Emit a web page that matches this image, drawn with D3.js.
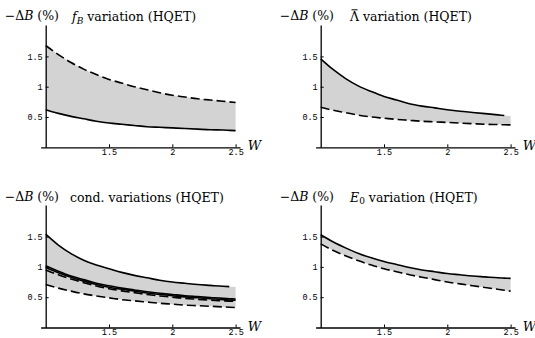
<!DOCTYPE html>
<html><head><meta charset="utf-8">
<script src="https://cdn.jsdelivr.net/npm/d3@7"></script>
<style>body{margin:0;background:#fff}svg{display:block}</style>
</head><body>
<svg id="c" width="535" height="338"></svg>
<script>
const W = [1, 1.1, 1.2, 1.3, 1.4, 1.5, 1.6, 1.7, 1.8, 1.9, 2.0, 2.1, 2.2, 2.3, 2.4, 2.45, 2.5];
const xTicks = [1.5, 2, 2.5];
const yTicks = [0.5, 1, 1.5];

// f_B variation
const fbDashed = [1.68,1.53,1.40,1.29,1.20,1.12,1.06,1.00,0.95,0.90,0.86,0.83,0.80,0.78,0.76,0.75,0.74];
const fbSolid  = [0.62,0.56,0.51,0.47,0.43,0.40,0.38,0.36,0.34,0.33,0.32,0.31,0.30,0.29,0.285,0.28,0.275];
// Lambda-bar variation
const lamSolid  = [1.46,1.28,1.13,1.01,0.92,0.84,0.78,0.72,0.68,0.65,0.62,0.595,0.575,0.555,0.535,0.525,0.515];
const lamDashed = [0.66,0.61,0.57,0.53,0.50,0.48,0.46,0.445,0.43,0.42,0.41,0.40,0.39,0.38,0.375,0.372,0.37];
// cond. variations
const condS1 = [1.54,1.36,1.22,1.11,1.03,0.97,0.91,0.86,0.82,0.78,0.75,0.73,0.71,0.695,0.68,0.675,0.67];
const condS2 = [1.02,0.93,0.85,0.79,0.73,0.69,0.65,0.62,0.59,0.565,0.545,0.525,0.51,0.495,0.48,0.475,0.47];
const condS3 = [0.99,0.905,0.83,0.765,0.71,0.665,0.63,0.60,0.57,0.545,0.525,0.505,0.49,0.475,0.46,0.455,0.45];
const condD1 = [0.95,0.87,0.80,0.74,0.685,0.64,0.605,0.575,0.545,0.52,0.50,0.48,0.465,0.45,0.44,0.435,0.43];
const condD2 = [0.71,0.65,0.60,0.555,0.52,0.49,0.46,0.44,0.42,0.40,0.385,0.37,0.36,0.35,0.34,0.335,0.33];
// E0 variation
const e0Solid  = [1.53,1.41,1.31,1.22,1.15,1.09,1.04,0.99,0.95,0.92,0.89,0.87,0.85,0.835,0.82,0.815,0.81];
const e0Dashed = [1.38,1.27,1.18,1.10,1.03,0.97,0.92,0.87,0.83,0.79,0.75,0.72,0.69,0.66,0.63,0.615,0.60];

const svg = d3.select("#c");
const PX = 126.6, PY = 60.6;
const FILL = "#d3d3d3";
const SERIF = "'DejaVu Serif', serif";

function panel(ox, oy, tx, title, bands, lines) {
  const g = svg.append("g");
  const x = d3.scaleLinear().domain([0.96, 2.535]).range([ox - 0.04*PX, ox + 1.535*PX]);
  const y = d3.scaleLinear().domain([0, 2.02]).range([oy, oy - 2.02*PY]);
  const pts = a => a.map((v,i)=>({w:W[i], v}));

  bands.forEach(([lo, hi]) => {
    const data = W.map((w,i)=>({w, lo: lo[i], hi: hi[i]}));
    g.append("path").datum(data)
      .attr("d", d3.area().curve(d3.curveMonotoneX).x(d=>x(d.w)).y0(d=>y(d.lo)).y1(d=>y(d.hi)))
      .attr("fill", FILL);
  });
  lines.forEach(([arr, dashed, end]) => {
    const data = pts(arr).filter(d => d.w <= (end || 2.5));
    g.append("path").datum(data)
      .attr("d", d3.line().curve(d3.curveMonotoneX).x(d=>x(d.w)).y(d=>y(d.v)))
      .attr("fill","none").attr("stroke","#000").attr("stroke-width",1.6)
      .attr("stroke-dasharray", dashed ? "9,4" : null);
  });

  const xa = g.append("g").attr("transform",`translate(0,${oy})`)
    .call(d3.axisBottom(x).tickValues(xTicks).tickSize(-3).tickSizeOuter(0).tickPadding(2).tickFormat(d3.format("")));
  const ya = g.append("g").attr("transform",`translate(${ox},0)`)
    .call(d3.axisLeft(y).tickValues(yTicks).tickSize(-3).tickSizeOuter(0).tickPadding(3).tickFormat(d3.format("")));
  [xa, ya].forEach(a => {
    a.select(".domain").attr("stroke","#000").attr("stroke-width",1.3);
    a.selectAll(".tick line").attr("stroke","#000").attr("stroke-width",1);
    a.selectAll(".tick text").attr("font-family","'Liberation Mono', monospace").attr("font-size",8.5).attr("fill","#000");
  });
  xa.selectAll(".tick text").attr("dy", "0.66em");

  g.append("text").attr("x", ox + 1.595*PX).attr("y", oy + 3)
    .attr("font-family", SERIF).attr("font-style","italic").attr("font-size",13).text("W");

  const lab = g.append("text").attr("x", ox - 41).attr("y", oy - 127)
    .attr("font-family", SERIF).attr("font-size",12.5);
  lab.append("tspan").text("\u2212\u0394");
  lab.append("tspan").attr("font-style","italic").text("B");
  lab.append("tspan").text(" (%)");

  const t = g.append("text").attr("x", tx).attr("y", oy - 126)
    .attr("font-family", SERIF).attr("font-size",12.5);
  title(t, g);
}

panel(45.7, 147.3, 72, t => {
  t.append("tspan").attr("font-style","italic").text("f");
  t.append("tspan").attr("font-style","italic").attr("font-size",9).attr("dy",2.5).text("B");
  t.append("tspan").attr("dy",-2.5).text(" variation (HQET)");
}, [[fbSolid, fbDashed]], [[fbDashed, true], [fbSolid, false]]);

panel(320.7, 147.3, 350, (t, g) => {
  t.append("tspan").text("\u039B variation (HQET)");
  const wL = t.node().getSubStringLength(0, 1);
  const bx = +t.attr("x"), by = +t.attr("y");
  g.append("line").attr("x1", bx + 1.5).attr("x2", bx + wL - 1.5)
    .attr("y1", by - 11.5).attr("y2", by - 11.5).attr("stroke", "#000").attr("stroke-width", 1);
}, [[lamDashed, lamSolid]], [[lamSolid, false, 2.45], [lamDashed, true]]);

panel(45.7, 327.5, 70, t => {
  t.append("tspan").text("cond. variations (HQET)");
}, [[condD1, condS1], [condD2, condS2]],
   [[condS1, false, 2.45], [condS2, false], [condS3, false], [condD1, true], [condD2, true]]);

panel(320.7, 327.5, 350, t => {
  t.append("tspan").attr("font-style","italic").text("E");
  t.append("tspan").attr("font-size",9).attr("dy",2.5).text("0");
  t.append("tspan").attr("dy",-2.5).text(" variation (HQET)");
}, [[e0Dashed, e0Solid]], [[e0Solid, false], [e0Dashed, true]]);
</script>
</body></html>
